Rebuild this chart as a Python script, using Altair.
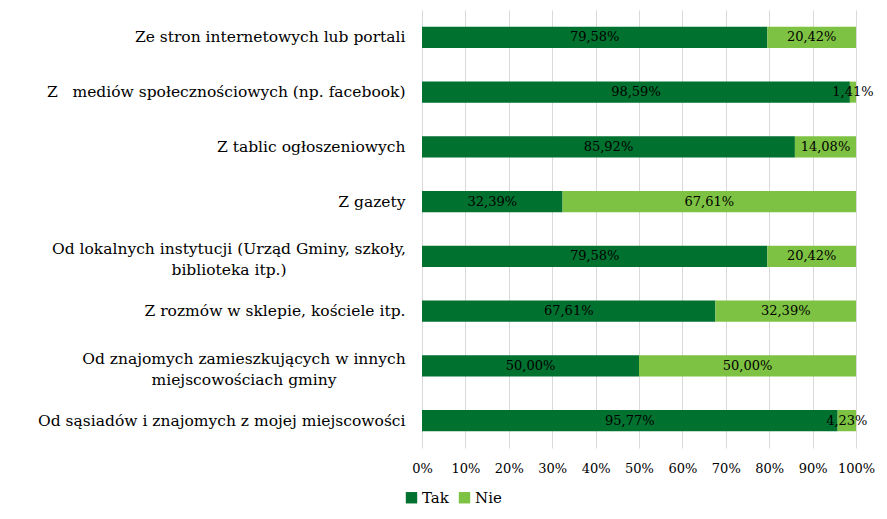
import altair as alt
import pandas as pd

FONT = "DejaVu Serif, serif"
NB = "\u00a0"

categories = [
    "Ze stron internetowych lub portali",
    "Z" + NB * 3 + "mediów społecznościowych (np. facebook)",
    "Z tablic ogłoszeniowych",
    "Z gazety",
    "Od lokalnych instytucji (Urząd Gminy, szkoły,\nbiblioteka itp.)",
    "Z rozmów w sklepie, kościele itp.",
    "Od znajomych zamieszkujących w innych\nmiejscowościach gminy",
    "Od sąsiadów i znajomych z mojej miejscowości",
]
tak = [79.58, 98.59, 85.92, 32.39, 79.58, 67.61, 50.00, 95.77]
nie = [20.42, 1.41, 14.08, 67.61, 20.42, 32.39, 50.00, 4.23]
series = ["Tak", "Nie"]
colors = ["#00712f", "#7dc242"]
ticks = [0, 10, 20, 30, 40, 50, 60, 70, 80, 90, 100]

rows = []
for c, t, n in zip(categories, tak, nie):
    for k, (s, v) in enumerate(zip(series, [t, n])):
        rows.append({"cat": c, "series": s, "value": v, "ord": k,
                     "label": f"{v:.2f}".replace(".", ",") + "%"})
df = pd.DataFrame(rows)

base = alt.Chart(df).transform_stack(
    stack="value", groupby=["cat"], as_=["x0", "x1"],
    sort=[alt.SortField("ord", order="ascending")]
).transform_calculate(mid="(datum.x0 + datum.x1) / 2")

multi = "indexof(datum.value, '\\n') >= 0"
y = alt.Y("cat:N", sort=categories, title=None,
          scale=alt.Scale(paddingInner=0.616, paddingOuter=0.308),
          axis=alt.Axis(
              domain=False, ticks=False, labelFont=FONT, labelFontSize=15.5,
              labelColor="black", labelLimit=0,
              labelExpr="split(datum.label, '\\n')", labelLineHeight=21,
              labelAlign={"condition": {"test": multi, "value": "center"}, "value": "right"},
              labelOffset={"condition": {"test": multi, "value": -7}, "value": 0},
              labelPadding={"condition": [
                  {"test": "indexof(datum.value, 'Od lokalnych') == 0", "value": 193.5},
                  {"test": "indexof(datum.value, 'Od znajomych') == 0", "value": 178.5}],
                  "value": 17},
          ))

bars = base.mark_bar().encode(
    x=alt.X("x0:Q", scale=alt.Scale(domain=[0, 100]), title=None,
            axis=alt.Axis(values=ticks, labelExpr="datum.value + '%'", domain=False,
                          ticks=False, grid=True, gridColor="#d9d9d9", gridWidth=1,
                          labelFont=FONT, labelFontSize=13, labelColor="black",
                          labelPadding=14, labelOverlap=False, labelFlush=False)),
    x2="x1:Q",
    y=y,
    color=alt.Color("series:N", sort=series,
                    scale=alt.Scale(domain=series, range=colors),
                    legend=alt.Legend(title=None, orient="none", legendX=-18, legendY=480,
                                      direction="horizontal", symbolType="square",
                                      symbolSize=130, symbolStrokeWidth=0,
                                      labelFont=FONT, labelFontSize=15,
                                      labelColor="black", columnPadding=8,
                                      labelOffset=3)),
    order=alt.Order("ord:Q"),
)

texts = base.mark_text(font=FONT, fontSize=13, color="black", baseline="middle").encode(
    x="mid:Q",
    y=alt.Y("cat:N", sort=categories),
    text="label:N",
)

chart = alt.layer(bars, texts).properties(
    width=434, height=438,
    autosize=alt.AutoSizeParams(type="none"),
    padding={"left": 414, "top": 2, "right": 23, "bottom": 63},
).configure_view(stroke=None)

chart.save("out.html", embed_options={"renderer": "svg", "actions": False})
